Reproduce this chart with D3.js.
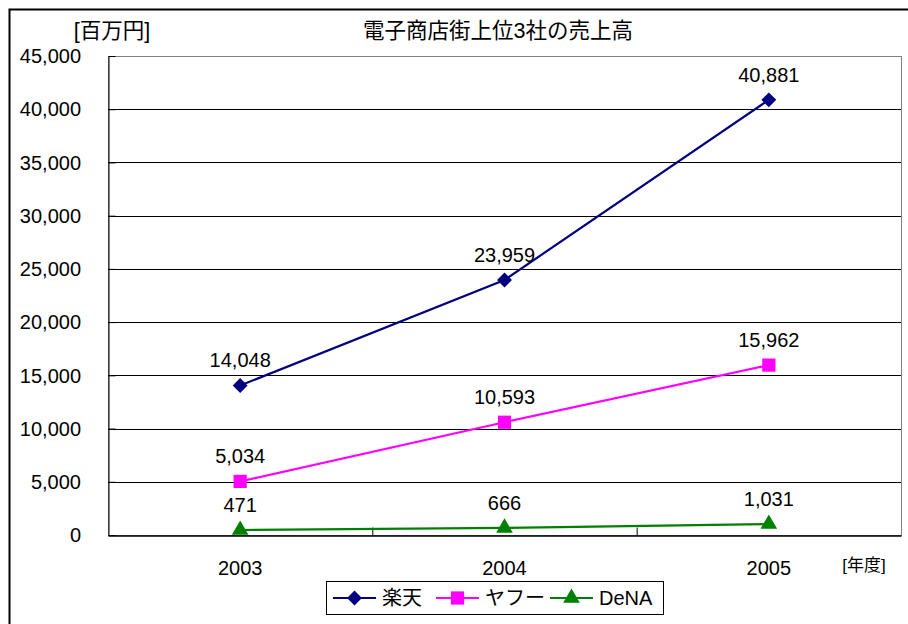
<!DOCTYPE html>
<html>
<head>
<meta charset="utf-8">
<script src="https://cdn.jsdelivr.net/npm/d3@7"></script>
<style>
  body { margin: 0; background: #fff; }
  text { font-family: "Liberation Sans", "Noto Sans CJK JP", sans-serif; fill: #000; }
</style>
</head>
<body>
<script>
var years = ["2003", "2004", "2005"];
var rakuten = [14048, 23959, 40881];
var yahoo = [5034, 10593, 15962];
var dena = [471, 666, 1031];
var seriesNames = ["楽天", "ヤフー", "DeNA"];
var yTicks = [0, 5000, 10000, 15000, 20000, 25000, 30000, 35000, 40000, 45000];

var width = 908, height = 624;
var plotLeft = 108, plotRight = 901, plotTop = 56, plotBottom = 535;

var svg = d3.select("body").append("svg")
  .attr("width", width).attr("height", height);

// outer frame (runs off the picture right/bottom)
svg.append("rect").attr("x", 9.5).attr("y", 9.5)
  .attr("width", 1000).attr("height", 1000)
  .attr("fill", "none").attr("stroke", "#000").attr("stroke-width", 2);

var x = d3.scaleBand().domain(years).range([plotLeft, plotRight]);
var y = d3.scaleLinear().domain([0, 45000]).range([plotBottom, plotTop]);
var fmt = d3.format(",");

// plot border
svg.append("rect").attr("x", plotLeft + 0.5).attr("y", plotTop + 0.5)
  .attr("width", plotRight - plotLeft).attr("height", plotBottom - plotTop)
  .attr("fill", "none").attr("stroke", "#808080").attr("stroke-width", 1);

// gridlines
svg.append("g").selectAll("line").data(yTicks.slice(1, -1)).enter().append("line")
  .attr("x1", plotLeft).attr("x2", plotRight)
  .attr("y1", function(d) { return Math.round(y(d)) + 0.5; })
  .attr("y2", function(d) { return Math.round(y(d)) + 0.5; })
  .attr("stroke", "#000").attr("stroke-width", 1);

// y axis
var yAxis = svg.append("g").attr("transform", "translate(" + (plotLeft + 0.5) + ",0)")
  .call(d3.axisRight(y).tickValues(yTicks).tickSize(7).tickFormat("").tickSizeOuter(0));
yAxis.select(".domain").attr("stroke", "#000");
svg.append("g").selectAll("text").data(yTicks).enter().append("text")
  .attr("x", 81).attr("y", function(d) { return y(d); })
  .attr("dy", "0.36em").attr("text-anchor", "end")
  .style("font-size", "20px").text(function(d) { return fmt(d); });

// x axis
var xAxis = svg.append("g").attr("transform", "translate(0," + (plotBottom + 0.5) + ")")
  .call(d3.axisTop(d3.scaleLinear().domain([0, 3]).range([plotLeft, plotRight]))
    .tickValues([1, 2]).tickSize(8).tickFormat("").tickSizeOuter(0));
xAxis.select(".domain").attr("stroke", "#000").attr("stroke-width", 1.5);
svg.append("g").selectAll("text").data(years).enter().append("text")
  .attr("x", function(d) { return x(d) + x.bandwidth() / 2; })
  .attr("y", 575).attr("text-anchor", "middle")
  .style("font-size", "20px").text(function(d) { return d; });

svg.append("text").attr("x", 864).attr("y", 571).attr("text-anchor", "middle")
  .style("font-size", "17px").text("[年度]");
svg.append("text").attr("x", 112).attr("y", 38).attr("text-anchor", "middle")
  .style("font-size", "21.5px").text("[百万円]");
svg.append("text").attr("x", 498).attr("y", 38).attr("text-anchor", "middle")
  .style("font-size", "21.5px").text("電子商店街上位3社の売上高");

// diamond = square turned 45 degrees
var series = [
  { name: seriesNames[0], values: rakuten, color: "#000080", shape: d3.symbolSquare, size: 110, rot: 45 },
  { name: seriesNames[1], values: yahoo, color: "#ff00ff", shape: d3.symbolSquare, size: 175, rot: 0 },
  { name: seriesNames[2], values: dena, color: "#008000", shape: d3.symbolTriangle, size: 120, rot: 0 }
];

var line = d3.line()
  .x(function(d, i) { return x(years[i]) + x.bandwidth() / 2; })
  .y(function(d) { return y(d); });

series.forEach(function(s) {
  svg.append("path").datum(s.values).attr("d", line)
    .attr("fill", "none").attr("stroke", s.color).attr("stroke-width", 2.2);
  svg.append("g").selectAll("path").data(s.values).enter().append("path")
    .attr("d", d3.symbol().type(s.shape).size(s.size))
    .attr("transform", function(d, i) {
      return "translate(" + (x(years[i]) + x.bandwidth() / 2) + "," + y(d) + ") rotate(" + s.rot + ")";
    })
    .attr("fill", s.color);
  svg.append("g").selectAll("text").data(s.values).enter().append("text")
    .attr("x", function(d, i) { return x(years[i]) + x.bandwidth() / 2; })
    .attr("y", function(d) { return y(d) - 18; })
    .attr("text-anchor", "middle").style("font-size", "20px")
    .text(function(d) { return fmt(d); });
});

// legend
var lg = svg.append("g");
lg.append("rect").attr("x", 326.5).attr("y", 581.5).attr("width", 337).attr("height", 33)
  .attr("fill", "#fff").attr("stroke", "#000").attr("stroke-width", 1);
var legendX = [333, 436, 550];
series.forEach(function(s, i) {
  var g = lg.append("g").attr("transform", "translate(" + legendX[i] + ",598)");
  g.append("line").attr("x1", 0).attr("x2", 43).attr("stroke", s.color).attr("stroke-width", 2.2);
  g.append("path").attr("d", d3.symbol().type(s.shape).size(s.size))
    .attr("transform", "translate(21.5,0) rotate(" + s.rot + ")").attr("fill", s.color);
  g.append("text").attr("x", 49).attr("dy", "0.36em").style("font-size", "20px").text(s.name);
});
</script>
</body>
</html>
